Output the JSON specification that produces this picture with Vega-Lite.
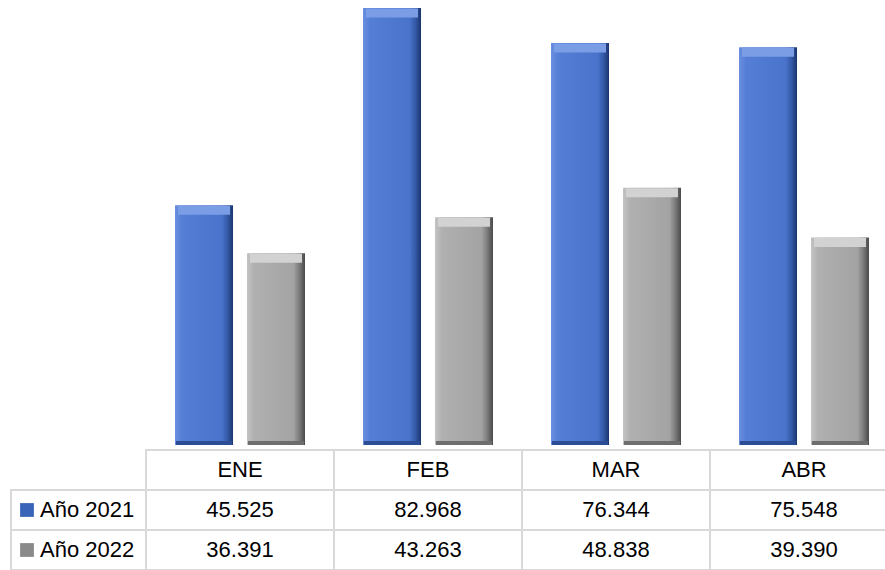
{
  "$schema": "https://vega.github.io/schema/vega-lite/v6.json",
  "padding": {"left": 10, "top": 0, "right": 0, "bottom": 0},
  "background": "white",
  "config": {"view": {"stroke": null}, "font": "Liberation Sans, Arial, sans-serif"},
  "datasets": {
    "d": [
      {"mes": "ENE", "anio": "2021", "serie": "Año 2021", "valor": 45.525},
      {"mes": "FEB", "anio": "2021", "serie": "Año 2021", "valor": 82.968},
      {"mes": "MAR", "anio": "2021", "serie": "Año 2021", "valor": 76.344},
      {"mes": "ABR", "anio": "2021", "serie": "Año 2021", "valor": 75.548},
      {"mes": "ENE", "anio": "2022", "serie": "Año 2022", "valor": 36.391},
      {"mes": "FEB", "anio": "2022", "serie": "Año 2022", "valor": 43.263},
      {"mes": "MAR", "anio": "2022", "serie": "Año 2022", "valor": 48.838},
      {"mes": "ABR", "anio": "2022", "serie": "Año 2022", "valor": 39.390}
    ],
    "series": [
      {"anio": "2021", "serie": "Año 2021"},
      {"anio": "2022", "serie": "Año 2022"}
    ]
  },
  "columns": 2,
  "bounds": "flush",
  "spacing": {"row": 5, "column": 0},
  "concat": [
    {
      "width": 135,
      "height": 445,
      "data": {"values": []},
      "mark": {"type": "rect", "opacity": 0},
      "encoding": {}
    },
    {
      "width": 752,
      "height": 445,
      "data": {"name": "d"},
      "encoding": {
        "x": {"field": "mes", "type": "nominal", "sort": ["ENE", "FEB", "MAR", "ABR"],
              "scale": {"paddingInner": 0.3085, "paddingOuter": 0.1543}, "axis": null},
        "xOffset": {"field": "anio", "type": "nominal", "scale": {"domain": ["2021", "2022"], "paddingInner": 0.194, "paddingOuter": 0}},
        "y": {"field": "valor", "type": "quantitative", "scale": {"domain": [0, 84.5], "nice": false}, "axis": null}
      },
      "layer": [
        {
          "transform": [{"filter": "datum.anio === '2021'"}],
          "mark": {"type": "bar", "color": {"gradient": "linear", "x1": 0, "x2": 1, "y1": 0, "y2": 0,
            "stops": [
              {"offset": 0, "color": "#6a8fe0"},
              {"offset": 0.12, "color": "#557fd6"},
              {"offset": 0.8, "color": "#4a74cc"},
              {"offset": 0.9, "color": "#355ba8"},
              {"offset": 1, "color": "#1b3470"}
            ]}}
        },
        {
          "transform": [{"filter": "datum.anio === '2022'"}],
          "mark": {"type": "bar", "color": {"gradient": "linear", "x1": 0, "x2": 1, "y1": 0, "y2": 0,
            "stops": [
              {"offset": 0, "color": "#c4c4c4"},
              {"offset": 0.12, "color": "#b0b0b0"},
              {"offset": 0.8, "color": "#a3a3a3"},
              {"offset": 0.9, "color": "#7c7c7c"},
              {"offset": 1, "color": "#4a4a4a"}
            ]}}
        },
        {
          "transform": [{"filter": "datum.anio === '2021'"}],
          "mark": {"type": "tick", "thickness": 9, "yOffset": 5, "color": "#7b9de6", "opacity": 1, "size": 52}
        },
        {
          "transform": [{"filter": "datum.anio === '2022'"}],
          "mark": {"type": "tick", "thickness": 9, "yOffset": 5, "color": "#d2d2d2", "opacity": 1, "size": 52}
        },
        {
          "transform": [{"filter": "datum.anio === '2021'"}],
          "mark": {"type": "tick", "thickness": 4, "yOffset": -2, "color": "#2a4d96", "opacity": 1, "size": 56},
          "encoding": {"y": {"datum": 0, "type": "quantitative"}}
        },
        {
          "transform": [{"filter": "datum.anio === '2022'"}],
          "mark": {"type": "tick", "thickness": 4, "yOffset": -2, "color": "#6e6e6e", "opacity": 1, "size": 56},
          "encoding": {"y": {"datum": 0, "type": "quantitative"}}
        }
      ]
    },
    {
      "width": 135,
      "height": 120,
      "data": {"name": "series"},
      "encoding": {
        "x": {"datum": "l", "type": "nominal", "scale": {"paddingInner": 0, "paddingOuter": 0}, "axis": null},
        "y": {"field": "serie", "type": "nominal", "scale": {"domain": ["Mes", "Año 2021", "Año 2022"], "paddingInner": 0, "paddingOuter": 0}, "axis": null}
      },
      "layer": [
        {"mark": {"type": "rect", "fill": null, "stroke": "#d9d9d9", "strokeWidth": 2}},
        {"mark": {"type": "point", "shape": "square", "filled": true, "size": 190, "xOffset": 16, "opacity": 1},
         "encoding": {
           "x": {"datum": "l", "type": "nominal", "bandPosition": 0},
           "color": {"field": "serie", "type": "nominal", "scale": {"range": ["#3a64b8", "#8a8a8a"]}, "legend": null}
         }},
        {"mark": {"type": "text", "align": "left", "dx": 29, "fontSize": 22, "color": "#000000"},
         "encoding": {
           "x": {"datum": "l", "type": "nominal", "bandPosition": 0},
           "text": {"field": "serie"}
         }}
      ]
    },
    {
      "width": 752,
      "height": 120,
      "data": {"name": "d"},
      "encoding": {
        "x": {"field": "mes", "type": "nominal", "sort": ["ENE", "FEB", "MAR", "ABR"], "scale": {"paddingInner": 0, "paddingOuter": 0}, "axis": null}
      },
      "layer": [
        {"mark": {"type": "rect", "fill": null, "stroke": "#d9d9d9", "strokeWidth": 2},
         "encoding": {"y": {"field": "serie", "type": "nominal", "scale": {"domain": ["Mes", "Año 2021", "Año 2022"], "paddingInner": 0, "paddingOuter": 0}, "axis": null}}},
        {"transform": [{"filter": "datum.anio === '2021'"}],
         "mark": {"type": "rect", "fill": null, "stroke": "#d9d9d9", "strokeWidth": 2},
         "encoding": {"y": {"datum": "Mes", "type": "nominal"}}},
        {"mark": {"type": "text", "fontSize": 22, "color": "#000000"},
         "encoding": {"y": {"field": "serie", "type": "nominal"}, "text": {"field": "valor", "type": "quantitative", "format": ".3f"}}},
        {"transform": [{"filter": "datum.anio === '2021'"}],
         "mark": {"type": "text", "fontSize": 22, "color": "#000000"},
         "encoding": {"y": {"datum": "Mes", "type": "nominal"}, "text": {"field": "mes"}}}
      ]
    }
  ]
}
